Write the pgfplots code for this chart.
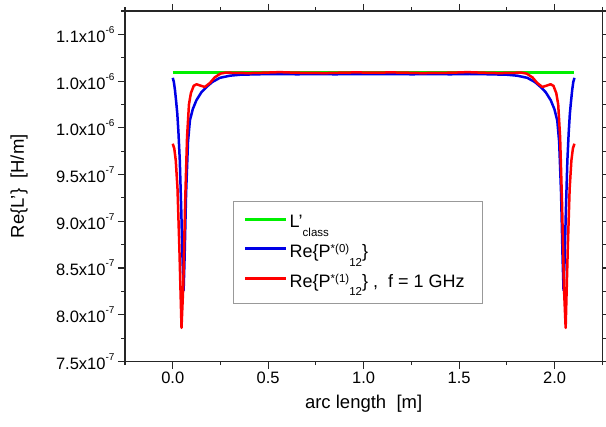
\documentclass[border=0pt]{standalone}
\usepackage{pgfplots}
\pgfplotsset{compat=1.18}
\usepackage{fontspec}
\setmainfont{Liberation Sans}
\usetikzlibrary{calc}
\definecolor{cgreen}{RGB}{0,240,0}
\definecolor{cblue}{RGB}{0,0,230}
\definecolor{cred}{RGB}{255,0,0}
\newcommand{\sci}[2]{#1x10\raisebox{9pt}{\fontsize{10}{10}\selectfont #2}}
\newcommand{\lsub}[1]{\raisebox{-8.3pt}{\fontsize{11.5}{12}\selectfont #1}}
\newcommand{\lsup}[1]{\raisebox{5pt}{\fontsize{11.5}{12}\selectfont #1}}

\pgfplotstableread{
x y
0.000 1.0595e-6
2.104 1.0595e-6
}\greendata

\pgfplotstableread{
x y
0.000 1.0535e-6
0.006 1.0490e-6
0.012 1.0400e-6
0.018 1.0280e-6
0.024 1.0150e-6
0.030 9.950e-7
0.037 9.650e-7
0.045 9.100e-7
0.052 8.550e-7
0.057 8.260e-7
0.062 8.600e-7
0.070 9.300e-7
0.080 9.850e-7
0.090 1.0080e-6
0.105 1.0200e-6
0.124 1.0295e-6
0.150 1.0380e-6
0.177 1.0437e-6
0.207 1.0490e-6
0.247 1.0535e-6
0.300 1.0558e-6
0.352 1.0568e-6
0.450 1.0573e-6
0.550 1.0576e-6
0.650 1.0573e-6
0.750 1.0575e-6
0.850 1.0573e-6
0.950 1.0575e-6
1.052 1.0574e-6
1.154 1.0575e-6
1.254 1.0573e-6
1.354 1.0575e-6
1.454 1.0573e-6
1.554 1.0576e-6
1.654 1.0573e-6
1.752 1.0568e-6
1.804 1.0558e-6
1.857 1.0535e-6
1.897 1.0490e-6
1.927 1.0437e-6
1.954 1.0380e-6
1.980 1.0295e-6
1.999 1.0200e-6
2.014 1.0080e-6
2.024 9.850e-7
2.034 9.300e-7
2.042 8.600e-7
2.047 8.260e-7
2.052 8.550e-7
2.059 9.100e-7
2.067 9.650e-7
2.074 9.950e-7
2.080 1.0150e-6
2.086 1.0280e-6
2.092 1.0400e-6
2.098 1.0490e-6
2.104 1.0535e-6
}\bluedata

\pgfplotstableread{
x y
0.000 9.83e-7
0.008 9.78e-7
0.016 9.65e-7
0.025 9.35e-7
0.035 8.70e-7
0.046 7.86e-7
0.055 8.30e-7
0.065 9.20e-7
0.075 9.90e-7
0.085 1.025e-6
0.095 1.037e-6
0.110 1.0450e-6
0.125 1.0466e-6
0.145 1.0452e-6
0.168 1.0437e-6
0.195 1.0480e-6
0.220 1.0540e-6
0.250 1.0580e-6
0.280 1.0592e-6
0.320 1.0588e-6
0.400 1.0586e-6
0.480 1.0590e-6
0.560 1.0596e-6
0.640 1.0590e-6
0.720 1.0588e-6
0.800 1.0586e-6
0.880 1.0590e-6
0.960 1.0593e-6
1.052 1.0590e-6
1.144 1.0593e-6
1.224 1.0590e-6
1.304 1.0586e-6
1.384 1.0588e-6
1.464 1.0590e-6
1.544 1.0596e-6
1.624 1.0590e-6
1.704 1.0586e-6
1.784 1.0588e-6
1.824 1.0592e-6
1.854 1.0580e-6
1.884 1.0540e-6
1.909 1.0480e-6
1.936 1.0437e-6
1.959 1.0452e-6
1.979 1.0466e-6
1.994 1.0450e-6
2.009 1.037e-6
2.019 1.025e-6
2.029 9.90e-7
2.039 9.20e-7
2.049 8.30e-7
2.058 7.86e-7
2.069 8.70e-7
2.079 9.35e-7
2.088 9.65e-7
2.096 9.78e-7
2.104 9.83e-7
}\reddata

\begin{document}
\begin{tikzpicture}
\begin{axis}[
  scale only axis,
  width=477.3pt, height=350.5pt,
  xmin=-0.25, xmax=2.25,
  ymin=7.5e-7, ymax=1.125e-6,
  scaled y ticks=false, scaled x ticks=false,
  axis line style={line width=1.1pt, black!85},
  tick style={line width=1.1pt, black!85},
  tick align=outside,
  major tick length=7pt,
  minor tick length=3.5pt,
  xtick={0,0.5,1,1.5,2},
  xticklabels={0.0,0.5,1.0,1.5,2.0},
  minor xtick={-0.25,0.25,0.75,1.25,1.75,2.25},
  ytick={7.5e-7,8e-7,8.5e-7,9e-7,9.5e-7,1e-6,1.05e-6,1.1e-6},
  yticklabels={\sci{7.5}{-7},\sci{8.0}{-7},\sci{8.5}{-7},\sci{9.0}{-7},\sci{9.5}{-7},\sci{1.0}{-6},\sci{1.0}{-6},\sci{1.1}{-6}},
  minor ytick={7.75e-7,8.25e-7,8.75e-7,9.25e-7,9.75e-7,1.025e-6,1.075e-6,1.125e-6},
  tick label style={font=\fontsize{16.5}{19}\selectfont},
  xlabel={arc length\ \ [m]},
  ylabel={Re\{L'\}\ \ [H/m]},
  every axis x label/.style={at={(axis description cs:0.5,-0.1213)}, anchor=center, font=\fontsize{18.5}{21}\selectfont},
  every axis y label/.style={at={(axis description cs:-0.222,0.5)}, anchor=center, rotate=90, font=\fontsize{18.5}{21}\selectfont},
  legend style={at={(0.2269,0.4588)}, anchor=north west, draw=black!40, line width=0.8pt,
    font=\fontsize{18}{21}\selectfont, inner xsep=10pt, inner ysep=12.5pt, row sep=11pt},
  legend cell align=left,
  legend image code/.code={\draw[#1, line width=3pt] (0pt,3pt) -- (41pt,3pt);},
]
\addplot[cgreen, line width=3.3pt] table {\greendata};
\addlegendentry{L'\lsub{class}}
\addplot[cblue, line width=2.5pt, line join=round] table {\bluedata};
\addlegendentry{Re\{P\lsup{*(0)}\lsub{12}\}}
\addplot[cred, line width=2.5pt, line join=round] table {\reddata};
\addlegendentry{Re\{P\lsup{*(1)}\lsub{12}\} ,\ \ f = 1 GHz\hspace*{6pt}}
\coordinate (SW) at (rel axis cs:0,0);
\coordinate (NE) at (rel axis cs:1,1);
\end{axis}
\pgfresetboundingbox
\path ($(SW)+(-125pt,-64.5pt)$) rectangle ($(NE)+(3.7pt,11pt)$);
\end{tikzpicture}
\end{document}
